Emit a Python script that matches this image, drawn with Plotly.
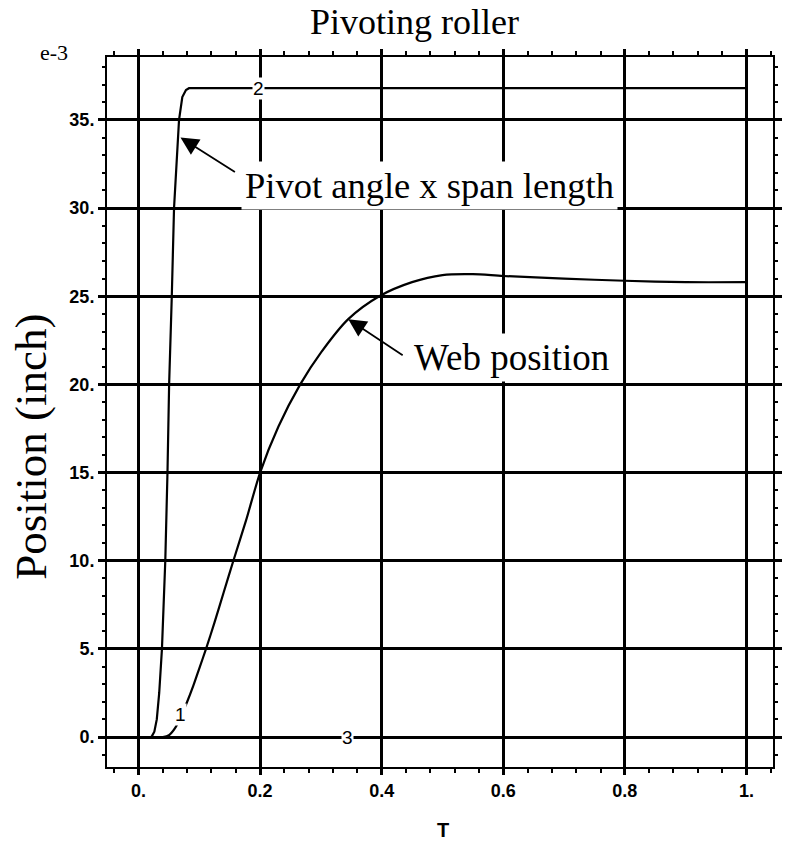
import plotly.graph_objects as go

# ---- data (values in units of 1e-3 inch) ----
t_pivot = [0.0, 0.020, 0.022, 0.026, 0.030, 0.034, 0.0385, 0.044, 0.0476, 0.0503,
           0.0547, 0.0584, 0.0666, 0.072, 0.078, 0.083, 1.0]
y_pivot = [0.0, 0.0, 0.05, 0.3, 1.0, 2.5, 5.0, 10.0, 15.0, 20.0,
           25.0, 30.0, 35.0, 36.3, 36.7, 36.8, 36.8]

t_web = [0.0, 0.040, 0.050, 0.060, 0.070, 0.080, 0.090, 0.100, 0.111, 0.125, 0.140,
         0.156, 0.177, 0.200, 0.230, 0.266, 0.300, 0.345, 0.396, 0.450, 0.500,
         0.550, 0.600, 0.700, 0.800, 0.900, 1.000]
y_web = [0.0, 0.0, 0.1, 0.5, 1.2, 2.0, 2.9, 3.9, 5.0, 6.5, 8.2,
         10.0, 12.3, 15.0, 17.6, 20.0, 21.8, 23.7, 25.0, 25.8, 26.2,
         26.25, 26.15, 26.0, 25.88, 25.8, 25.8]

t_zero = [0.0, 1.0]
y_zero = [0.0, 0.0]

x_tickvals = [0.0, 0.2, 0.4, 0.6, 0.8, 1.0]
x_ticktext = ["0.", "0.2", "0.4", "0.6", "0.8", "1."]
y_tickvals = [0, 5, 10, 15, 20, 25, 30, 35]
y_ticktext = ["0.", "5.", "10.", "15.", "20.", "25.", "30.", "35."]

title_text = "Pivoting roller"
xlabel = "T"
ylabel = "Position (inch)"
exp_label = "e-3"

SERIF = "Liberation Serif"
SANS = "Liberation Sans"

fig = go.Figure()
line_style = dict(color="black", width=2.2)
fig.add_trace(go.Scatter(x=t_zero, y=y_zero, mode="lines", line=line_style, showlegend=False))
fig.add_trace(go.Scatter(x=t_pivot, y=y_pivot, mode="lines", line=line_style, showlegend=False))
fig.add_trace(go.Scatter(x=t_web, y=y_web, mode="lines",
                         line=dict(color="black", width=2.2, shape="spline", smoothing=0.8),
                         showlegend=False))

tickfont = dict(family=SANS, size=18, color="black", weight="bold")

fig.update_xaxes(
    range=[-0.0519, 1.0438], tickvals=x_tickvals, ticktext=x_ticktext,
    showgrid=True, gridcolor="black", gridwidth=2.5, zeroline=False,
    showline=True, linecolor="black", linewidth=2, mirror="allticks",
    ticks="outside", ticklen=6, tickwidth=2.5, tickcolor="black",
    minor=dict(dtick=0.04, tick0=0, ticks="outside", ticklen=4, tickwidth=1.5,
               tickcolor="black", showgrid=False),
    tickfont=tickfont,
)
fig.update_yaxes(
    range=[-1.70, 38.57], tickvals=y_tickvals, ticktext=y_ticktext,
    showgrid=True, gridcolor="black", gridwidth=2.5, zeroline=False,
    showline=True, linecolor="black", linewidth=2, mirror="allticks",
    ticks="outside", ticklen=7, tickwidth=2.5, tickcolor="black",
    minor=dict(dtick=1, tick0=0, ticks="outside", ticklen=3, tickwidth=1.5,
               tickcolor="black", showgrid=False),
    tickfont=tickfont,
)

ann = []
# titles (paper coords relative to plot area)
ann.append(dict(text=title_text, x=0.462, y=1.049, xref="paper", yref="paper",
                xanchor="center", yanchor="middle", showarrow=False,
                font=dict(family=SERIF, size=36, color="black")))
ann.append(dict(text=exp_label, x=-0.08, y=1.007, xref="paper", yref="paper",
                xanchor="center", yanchor="middle", showarrow=False,
                font=dict(family=SERIF, size=22, color="black")))
ann.append(dict(text=ylabel, x=-0.114, y=0.451, xref="paper", yref="paper", textangle=-90,
                xanchor="center", yanchor="middle", showarrow=False,
                font=dict(family=SERIF, size=45, color="black")))
ann.append(dict(text=xlabel, x=0.504, y=-0.0887, xref="paper", yref="paper",
                xanchor="center", yanchor="middle", showarrow=False,
                font=dict(family=SANS, size=20, color="black", weight="bold")))

# call-out texts
ann.append(dict(text="Pivot angle x span length", x=0.168, y=31.3, xref="x", yref="y",
                xanchor="left", yanchor="middle", showarrow=False, bgcolor="white",
                borderpad=3, font=dict(family=SERIF, size=36.5, color="black")))
ann.append(dict(text="Web position", x=0.447, y=21.5, xref="x", yref="y",
                xanchor="left", yanchor="middle", showarrow=False, bgcolor="white",
                borderpad=3, font=dict(family=SERIF, size=37, color="black")))
# arrows
ann.append(dict(text="", x=0.069, y=34.0, ax=0.161, ay=32.0, xref="x", yref="y",
                axref="x", ayref="y", showarrow=True, arrowhead=2, arrowsize=2.0,
                arrowwidth=1.8, arrowcolor="black"))
ann.append(dict(text="", x=0.345, y=23.7, ax=0.437, ay=21.6, xref="x", yref="y",
                axref="x", ayref="y", showarrow=True, arrowhead=2, arrowsize=2.0,
                arrowwidth=1.8, arrowcolor="black"))
# curve labels
for lab, lx, ly in [("2", 0.198, 36.8), ("1", 0.069, 1.25), ("3", 0.343, 0.0)]:
    ann.append(dict(text=lab, x=lx, y=ly, xref="x", yref="y", showarrow=False,
                    bgcolor="white", borderpad=0,
                    font=dict(family=SANS, size=19, color="black")))

fig.update_layout(
    width=787, height=843,
    margin=dict(l=107, r=5, t=57, b=76),
    paper_bgcolor="white", plot_bgcolor="white",
    annotations=ann, showlegend=False,
)

fig.write_html("out.html")
